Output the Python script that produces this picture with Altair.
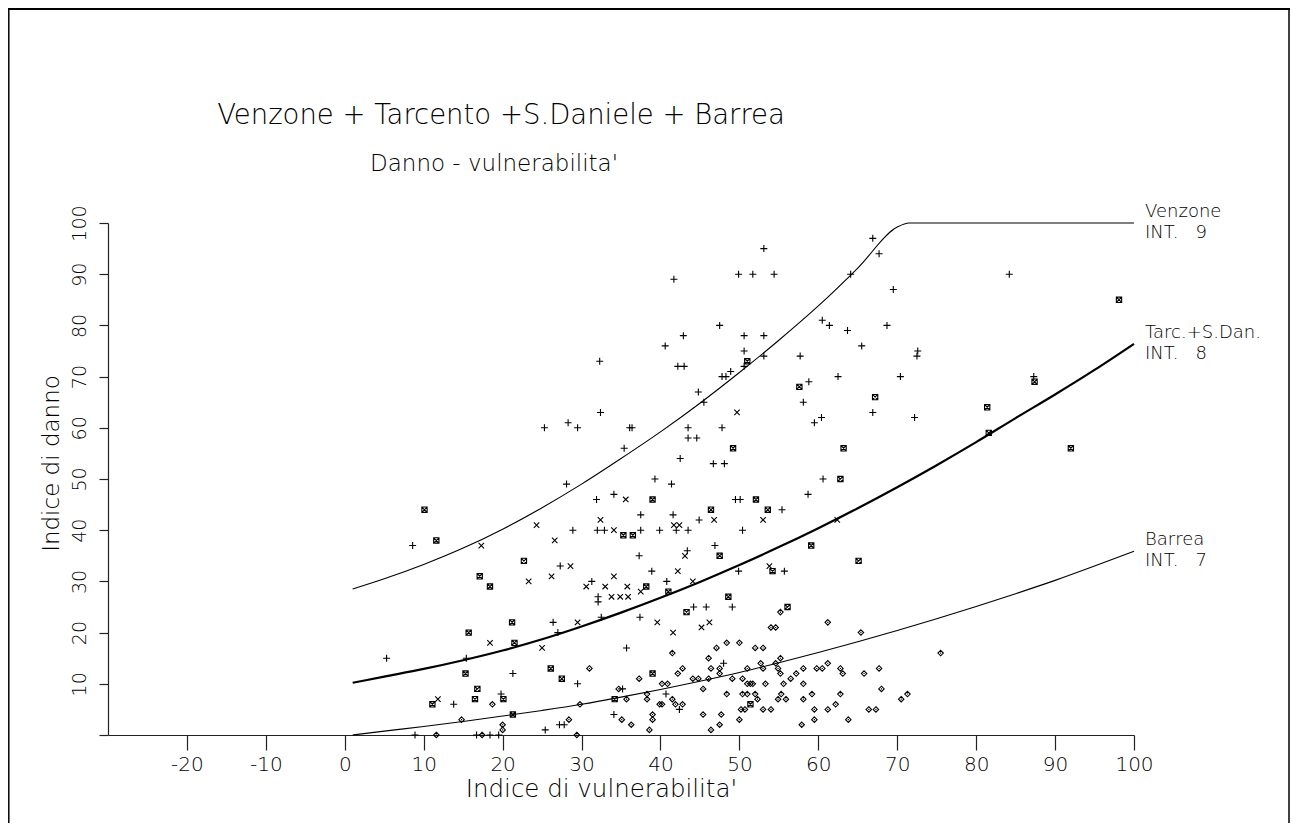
import altair as alt
import pandas as pd

FONT = "DejaVu Sans"

# ---- curves ----
ven_x = [1, 5, 10, 15, 20, 25, 30, 35, 40, 45, 50, 55, 60, 65, 70, 71.5, 100]
ven_y = [28.5, 30.5, 33.3, 36.5, 40.2, 44.4, 49.0, 54.0, 59.2, 64.8, 70.8, 77.1, 83.8, 91.2,
         99.2, 100, 100]

tar_x = [1, 5, 10, 15, 20, 25, 30, 35, 40, 45, 50, 55, 60, 65, 70, 75, 80, 85, 90, 95, 100]
tar_y = [10.2, 11.4, 12.9, 14.6, 16.5, 18.7, 21.2, 23.9, 26.8, 29.9, 33.2, 36.7, 40.4, 44.3,
         48.4, 52.7, 57.2, 61.9, 66.5, 71.3, 76.4]

bar_x = [1, 5, 10, 15, 20, 25, 30, 35, 40, 45, 50, 55, 60, 65, 70, 75, 80, 85, 90, 95, 100]
bar_y = [0, 0.75, 1.65, 2.65, 3.7, 4.8, 6.0, 7.4, 8.9, 10.5, 12.2, 14.1, 16.1, 18.2, 20.4,
         22.7, 25.1, 27.6, 30.2, 33.0, 35.9]

# ---- points: "+" markers ----
plus_x = [25.3, 28.3, 29.5, 32.3, 32.4, 35.4, 36.1, 36.4, 41.7, 40.6, 42.9, 42.2, 43.0, 43.5, 43.5,
          44.6, 42.5, 44.8, 45.5, 46.7, 48.1, 47.8, 47.8, 48.3, 48.9, 47.5, 49.9, 51.7, 54.4, 53.1,
          50.6, 53.1, 50.6, 50.6, 53.1, 57.7, 58.8, 58.1, 59.5, 60.4, 60.5, 61.4, 63.7, 65.5, 62.5,
          66.9, 64.1, 66.9, 67.7, 69.5, 68.7, 70.4, 72.2, 72.6, 72.5, 84.2, 87.3,
          28.1, 39.3, 41.4, 31.9, 34.1, 49.5, 50.1, 58.7, 60.6, 55.4, 37.5, 41.6, 44.9, 28.9, 32.0,
          32.9, 37.5, 39.9, 42.0, 43.5, 50.4, 46.9, 43.4, 37.3, 27.3, 55.7, 49.9, 38.9, 31.3, 40.8,
          32.1, 32.1, 44.2, 45.8, 49.1, 32.5, 37.4, 26.4, 27.0, 35.7, 48.0, 21.3, 29.5, 35.2, 40.7,
          34.1, 42.4, 27.2, 27.8, 25.4, 19.8,
          8.6, 5.3, 15.4, 13.8, 8.9, 16.7, 18.4, 19.5]
plus_y = [60, 61, 60, 73, 63, 56, 60, 60, 89, 76, 78, 72, 72, 60, 58,
          58, 54, 67, 65, 53, 53, 60, 70, 70, 71, 80, 90, 90, 90, 95,
          78, 78, 75, 72, 74, 74, 69, 65, 61, 62, 81, 80, 79, 76, 70,
          63, 90, 97, 94, 87, 80, 70, 62, 75, 74, 90, 70,
          49, 50, 49, 46, 47, 46, 46, 47, 50, 44, 43, 43, 42, 40, 40,
          40, 40, 40, 40, 40, 40, 37, 36, 35, 33, 32, 32, 32, 30, 30,
          27, 26, 25, 25, 25, 23, 23, 22, 20, 17, 14, 12, 10, 9, 8,
          4, 5, 2, 2, 1, 8,
          37, 15, 15, 6, 0, 0, 0, 0]

# ---- "x" markers ----
cross_x = [49.7, 35.6, 32.4, 46.8, 53.0, 24.3, 41.7, 42.4, 34.1, 26.6, 43.1, 28.6, 53.8, 42.2,
           26.2, 34.1, 23.3, 44.1, 30.6, 33.0, 35.8, 37.5, 33.8, 34.9, 35.9, 29.5, 39.6, 46.2,
           45.2, 41.6, 25.0, 17.3, 18.4, 11.8, 62.4]
cross_y = [63, 46, 42, 42, 42, 41, 41, 41, 40, 38, 35, 33, 33, 32,
           31, 31, 30, 30, 29, 29, 29, 28, 27, 27, 27, 22, 22, 22,
           21, 20, 17, 37, 18, 7, 42]

# ---- asterisk markers ----
star_x = [49.2, 51.0, 57.6, 67.2, 63.2, 98.1, 87.4, 81.4, 81.6, 92.0, 39.0, 52.1, 62.8, 46.4,
          53.6, 35.3, 36.5, 59.1, 47.5, 22.7, 65.1, 54.2, 38.2, 41.0, 48.6, 56.1, 43.3, 21.2,
          21.5, 26.1, 27.5, 39.0, 34.2, 51.4, 21.3, 20.1,
          10.1, 11.6, 17.1, 18.4, 15.7, 15.3, 16.8, 11.1, 16.5]
star_y = [56, 73, 68, 66, 56, 85, 69, 64, 59, 56, 46, 46, 50, 44,
          44, 39, 39, 37, 35, 34, 34, 32, 29, 28, 27, 25, 24, 22,
          18, 13, 11, 12, 7, 6, 4, 7,
          44, 38, 31, 29, 20, 12, 9, 6, 7]

# ---- diamond markers ----
dia_x = [55.2, 61.2, 54.0, 54.6, 65.4, 48.4, 50.0, 47.1, 52.0, 53.0, 41.5, 46.1, 55.2, 52.7, 54.6,
         61.2, 31.0, 42.8, 46.4, 47.5, 51.0, 53.0, 54.9, 58.1, 59.8, 60.5, 62.8, 67.7, 42.2, 47.5,
         55.2, 57.2, 63.1, 65.8, 44.1, 44.8, 46.1, 49.1, 50.4, 37.3, 56.5, 40.2, 40.9, 51.0, 51.4,
         51.7, 53.3, 55.6, 58.1, 45.4, 68.0, 34.7, 38.3, 48.4, 50.4, 51.0, 52.0, 55.3, 59.2, 62.8,
         70.5, 71.3, 35.7, 38.3, 41.5, 52.3, 54.9, 55.9, 58.1, 39.9, 40.2, 41.9, 42.8, 29.8, 62.2,
         50.2, 50.7, 53.0, 54.0, 59.5, 61.2, 66.4, 67.3, 35.1, 39.0, 39.0, 45.4, 47.7, 50.0, 59.5,
         63.8, 28.4, 36.3, 47.5, 57.9, 38.6, 46.4, 29.4, 20.0, 20.0, 18.7, 14.8, 11.6, 17.4, 75.5]
dia_y = [24, 22, 21, 21, 20, 18, 18, 17, 17, 17, 16, 15, 15, 14, 14,
         14, 13, 13, 13, 13, 13, 13, 13, 13, 13, 13, 13, 13, 12, 12,
         12, 12, 12, 12, 11, 11, 11, 11, 11, 11, 11, 10, 10, 10, 10,
         10, 10, 10, 10, 9, 9, 9, 8, 8, 8, 8, 8, 8, 8, 8,
         7, 8, 7, 7, 7, 7, 7, 7, 7, 6, 6, 6, 6, 6, 6,
         5, 5, 5, 5, 5, 5, 5, 5, 3, 4, 3, 4, 4, 3, 3,
         3, 3, 2, 2, 2, 1, 1, 0, 2, 1, 6, 3, 0, 0, 16]

# ---- text ----
title_1 = "Venzone + Tarcento +S.Daniele + Barrea"
title_2 = "Danno - vulnerabilita'"
curve_labels_1 = ["Venzone", "Tarc.+S.Dan.", "Barrea"]
curve_labels_2 = ["INT.\u00a0\u00a0\u00a09", "INT.\u00a0\u00a0\u00a08", "INT.\u00a0\u00a0\u00a07"]
curve_label_y = [ven_y[-1], tar_y[-1], bar_y[-1]]
x_ticks = list(range(-20, 101, 10))
y_ticks = list(range(0, 101, 10))

W, H = 1026, 512

X = alt.X("x:Q", scale=alt.Scale(domain=[-30, 100], nice=False, zero=False),
          axis=alt.Axis(values=x_ticks, tickSize=15, labelPadding=4, grid=False,
                        labelExpr="datum.value < 0 ? '-' + abs(datum.value) : '' + datum.value",
                        domainColor="#222", tickColor="#222", domainWidth=1.2, tickWidth=1.2,
                        labelFont=FONT, labelFontSize=20, labelColor="black",
                        labelFontWeight=300, labelBaseline="top",
                        labelFlush=False, labelOverlap=False,
                        title="Indice di vulnerabilita'", titleFont=FONT, titleFontSize=24.5,
                        titleFontWeight=300, titleColor="black",
                        titleX=493, titleY=61, titleAlign="center", titleBaseline="alphabetic"))
Y = alt.Y("y:Q", scale=alt.Scale(domain=[0, 100], nice=False, zero=False),
          axis=alt.Axis(values=y_ticks, labelExpr="datum.value == 0 ? '' : datum.label",
                        tickSize=9, grid=False, domainColor="#222", tickColor="#222",
                        domainWidth=1.2, tickWidth=1.2,
                        labelAngle=270, labelAlign="center", labelBaseline="alphabetic",
                        labelPadding=14, labelFont=FONT, labelFontSize=19, labelColor="black",
                        labelFontWeight=300, labelOverlap=False,
                        title="Indice di danno", titleFont=FONT, titleFontSize=23,
                        titleFontWeight=300, titleColor="black", titleAngle=270,
                        titleX=-50, titleY=240, titleAlign="center", titleBaseline="alphabetic"))


def line_layer(xs, ys, width):
    df = pd.DataFrame({"x": xs, "y": ys})
    return alt.Chart(df).mark_line(color="black", strokeWidth=width, interpolate="monotone").encode(x=X, y=Y)


def point_layer(xs, ys, shape, size):
    df = pd.DataFrame({"x": xs, "y": ys})
    return alt.Chart(df).mark_point(shape=shape, size=size, filled=False, color="black",
                                    strokeWidth=1.1, opacity=1).encode(x=X, y=Y)


PLUS = "M-1,0L1,0M0,-1L0,1"
XSHAPE = "M-1,-1L1,1M-1,1L1,-1"
STAR = "M-1,-1L1,1M-1,1L1,-1M-1,-1L1,-1L1,1L-1,1Z"
DIAMOND = "M0,-1L1,0L0,1L-1,0ZM-0.2,0L0.2,0"

lines = [line_layer(ven_x, ven_y, 1.1), line_layer(tar_x, tar_y, 2.2), line_layer(bar_x, bar_y, 1.1)]
points = [point_layer(plus_x, plus_y, PLUS, 49), point_layer(cross_x, cross_y, XSHAPE, 30),
          point_layer(star_x, star_y, STAR, 28), point_layer(dia_x, dia_y, DIAMOND, 30)]

lab_df = pd.DataFrame({"x": [101.4] * 3, "y": curve_label_y, "t1": curve_labels_1, "t2": curve_labels_2})
lab1 = alt.Chart(lab_df).mark_text(align="left", baseline="alphabetic", dy=-6, font=FONT,
                                   fontSize=18, fontWeight=300, color="black").encode(x=X, y=Y, text="t1:N")
lab2 = alt.Chart(lab_df).mark_text(align="left", baseline="alphabetic", dy=15, font=FONT,
                                   fontSize=18, fontWeight=300, color="black").encode(x=X, y=Y, text="t2:N")

t1 = alt.Chart(pd.DataFrame({"t": [title_1]})).mark_text(
    align="center", baseline="alphabetic", font=FONT, fontSize=27.5, fontWeight=300, color="black"
).encode(x=alt.value(393), y=alt.value(-99), text="t:N")
t2 = alt.Chart(pd.DataFrame({"t": [title_2]})).mark_text(
    align="center", baseline="alphabetic", font=FONT, fontSize=23, fontWeight=300, color="black"
).encode(x=alt.value(386), y=alt.value(-52), text="t:N")

# figure frame (left, top, right edges)
frame_left = alt.Chart(pd.DataFrame({"k": [0]})).mark_rule(color="black", strokeWidth=1.5).encode(
    x=alt.value(-99.2), y=alt.value(-214.2), y2=alt.value(700))
frame_top = alt.Chart(pd.DataFrame({"k": [0]})).mark_rule(color="black", strokeWidth=2).encode(
    x=alt.value(-100), x2=alt.value(1182), y=alt.value(-214))
frame_right = alt.Chart(pd.DataFrame({"k": [0]})).mark_rule(color="black", strokeWidth=1.5).encode(
    x=alt.value(1181), y=alt.value(-214.2), y2=alt.value(700))

chart = alt.layer(*lines, *points, lab1, lab2, t1, t2, frame_left, frame_top, frame_right).properties(
    width=W, height=H,
    autosize=alt.AutoSizeParams(type="none"),
    padding={"left": 100, "top": 215, "right": 157, "bottom": 88},
).configure_view(stroke=None, strokeWidth=0)

chart.save("out.html", embed_options={"renderer": "svg", "actions": False})
